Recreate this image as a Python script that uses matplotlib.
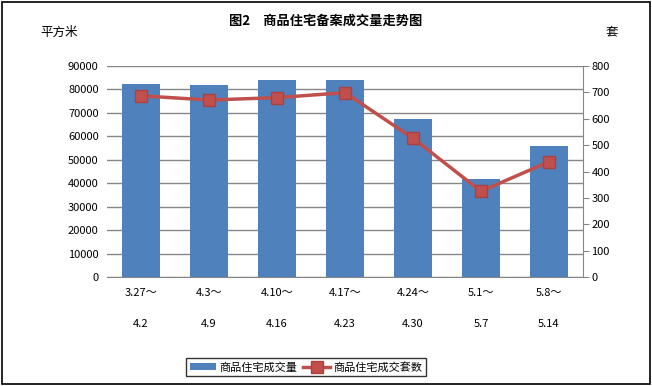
import matplotlib
matplotlib.use('Agg')
import matplotlib.pyplot as plt
import numpy as np
from matplotlib.patches import Rectangle

plt.rcParams['font.family'] = ['Noto Sans CJK SC', 'DejaVu Sans']

# data
weeks_start = ['3.27～', '4.3～', '4.10～', '4.17～', '4.24～', '5.1～', '5.8～']
weeks_end = ['4.2', '4.9', '4.16', '4.23', '4.30', '5.7', '5.14']
area = [82500, 82000, 84000, 84000, 67500, 41800, 55900]   # 平方米
units = [687, 671, 680, 699, 526, 325, 437]                 # 套

bar_color = '#4F81BD'
line_color = '#C0504D'
grid_color = '#868686'

fig = plt.figure(figsize=(6.52, 3.86), dpi=100)
ax = fig.add_axes([107/652, 1 - 277/386, (583-107)/652, (277-66)/386])
ax2 = ax.twinx()

x = np.arange(len(area))
b = ax.bar(x, area, width=0.56, color=bar_color, zorder=2, label='商品住宅成交量')
ax.set_ylim(0, 90000)
ax.set_yticks(range(0, 90001, 10000))
ax.set_xlim(-0.5, len(area) - 0.5)
ax.yaxis.grid(True, color=grid_color, linewidth=1)
ax.set_axisbelow(True)
ax.tick_params(axis='y', length=0, labelsize=8, pad=6)
ax.tick_params(axis='x', length=0, labelsize=8, pad=8)
ax.set_xticks(x)
ax.set_xticklabels([s + '\n\n' + e for s, e in zip(weeks_start, weeks_end)], linespacing=1.7)
for s in ['left', 'top', 'right']:
    ax.spines[s].set_visible(False)
ax.spines['bottom'].set_color(grid_color)

l, = ax2.plot(x, units, color=line_color, linewidth=2.5, marker='s', markersize=8,
              markerfacecolor=line_color, markeredgecolor='#B0403D', zorder=3,
              label='商品住宅成交套数')
ax2.set_ylim(0, 800)
ax2.set_yticks(range(0, 801, 100))
ax2.tick_params(axis='y', length=4, color=grid_color, labelsize=8, direction='out', pad=2)
for s in ['left', 'top', 'bottom']:
    ax2.spines[s].set_visible(False)
ax2.spines['right'].set_color(grid_color)

fig.text(0.5, 0.945, '图2　商品住宅备案成交量走势图', ha='center', va='center',
         fontsize=9.5, fontweight='bold')
fig.text(40/652, 1 - 32/386, '平方米', ha='left', va='center', fontsize=9)
fig.text(612/652, 1 - 32/386, '套', ha='center', va='center', fontsize=9)

leg = fig.legend(handles=[b, l], loc='center', ncol=2, bbox_to_anchor=(306/652, 1 - 367/386),
                 fontsize=8, frameon=True, fancybox=False, edgecolor='black',
                 handlelength=2.4, columnspacing=0.5, handletextpad=0.3, borderpad=0.3,
                 borderaxespad=0)
leg.get_frame().set_linewidth(1)

fig.patches.append(Rectangle((0.003, 0.004), 0.994, 0.99, transform=fig.transFigure,
                             fill=False, edgecolor='black', linewidth=1.2))

fig.savefig('out.png', dpi=100)
